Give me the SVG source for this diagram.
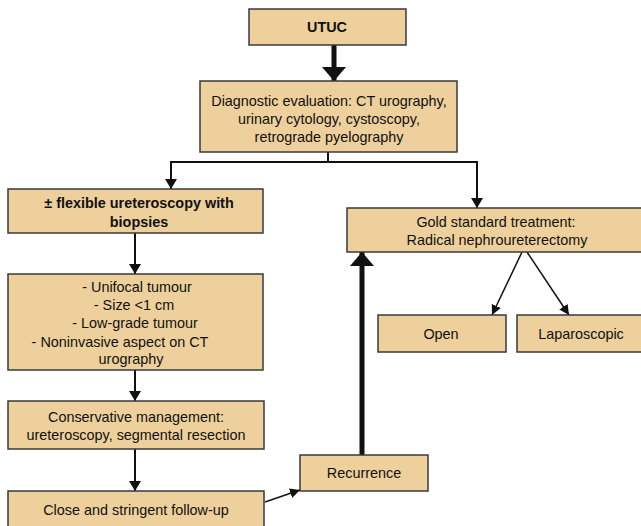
<svg xmlns="http://www.w3.org/2000/svg" width="641" height="526" viewBox="0 0 641 526">
<defs>
<style>
.box{fill:#EDD09B;stroke:#3a3a3a;stroke-width:1.5}
text{font-family:"Liberation Sans",Arial,sans-serif;font-size:14.4px;fill:#111;text-anchor:middle}
.b{font-weight:bold}
.ln{stroke:#111;fill:none;stroke-width:2}
.thick{stroke:#111;fill:none;stroke-width:5}
.thin{stroke:#111;fill:none;stroke-width:1.5}
</style>
<marker id="bigup" markerUnits="userSpaceOnUse" viewBox="0 0 14 24" markerWidth="14" markerHeight="24" refX="14" refY="12" orient="auto">
<path d="M0,0 L14,12 L0,24 Z" fill="#111"/>
</marker>
<marker id="hd" markerUnits="userSpaceOnUse" viewBox="0 0 10 12" markerWidth="10" markerHeight="12" refX="10" refY="6" orient="auto">
<path d="M0,0 L10,6 L0,12 Z" fill="#111"/>
</marker>
<marker id="hs" markerUnits="userSpaceOnUse" viewBox="0 0 10 10" markerWidth="10" markerHeight="10" refX="10" refY="5" orient="auto">
<path d="M0,0 L10,5 L0,10 Z" fill="#111"/>
</marker>
</defs>
<rect width="641" height="526" fill="#fff"/>
<g id="connectors">
<line class="thick" x1="334" y1="45" x2="334" y2="81" marker-end="url(#bigup)"/>
<line class="ln" x1="328" y1="152" x2="328" y2="162"/>
<polyline class="ln" points="170,162 477,162 477,208" marker-end="url(#hd)"/>
<line class="ln" x1="171" y1="162" x2="171" y2="189" marker-end="url(#hd)"/>
<line class="ln" x1="135" y1="233" x2="135" y2="274" marker-end="url(#hd)"/>
<line class="ln" x1="135" y1="370" x2="135" y2="401" marker-end="url(#hd)"/>
<line class="ln" x1="135" y1="449" x2="135" y2="491" marker-end="url(#hd)"/>
<line class="thin" x1="265" y1="502" x2="300" y2="490" marker-end="url(#hs)"/>
<line class="thick" x1="362" y1="455" x2="362" y2="252" marker-end="url(#bigup)"/>
<line class="thin" x1="522" y1="252" x2="492" y2="315" marker-end="url(#hs)"/>
<line class="thin" x1="527" y1="252" x2="569" y2="315" marker-end="url(#hs)"/>
</g>
<g id="utuc"><rect class="box" x="249" y="9" width="157" height="36"/><text class="b" x="327" y="32">UTUC</text></g>
<g id="diagnostic"><rect class="box" x="200" y="81" width="257" height="71"/>
<text x="329" y="106">Diagnostic evaluation: CT urography,</text>
<text x="329" y="124">urinary cytology, cystoscopy,</text>
<text x="329" y="142">retrograde pyelography</text></g>
<g id="flexible"><rect class="box" x="8" y="189" width="255" height="44"/>
<text class="b" x="139" y="208">± flexible ureteroscopy with</text>
<text class="b" x="139" y="227">biopsies</text></g>
<g id="criteria"><rect class="box" x="8" y="274" width="255" height="96"/>
<text x="137" y="292">- Unifocal tumour</text>
<text x="134" y="310">- Size &lt;1 cm</text>
<text x="135" y="328">- Low-grade tumour</text>
<text x="120" y="347">- Noninvasive aspect on CT</text>
<text x="131" y="364">urography</text></g>
<g id="conservative"><rect class="box" x="8" y="401" width="256" height="48"/>
<text x="136" y="422">Conservative management:</text>
<text x="136" y="440">ureteroscopy, segmental resection</text></g>
<g id="followup"><rect class="box" x="8" y="491" width="256" height="40"/>
<text x="136" y="515">Close and stringent follow-up</text></g>
<g id="recurrence"><rect class="box" x="300" y="455" width="128" height="36"/>
<text x="364" y="478">Recurrence</text></g>
<g id="gold"><rect class="box" x="347" y="208" width="300" height="44"/>
<text x="496" y="227">Gold standard treatment:</text>
<text x="497" y="245">Radical nephroureterectomy</text></g>
<g id="open"><rect class="box" x="378" y="315" width="128" height="37"/>
<text x="441" y="339">Open</text></g>
<g id="laparoscopic"><rect class="box" x="517" y="315" width="130" height="37"/>
<text x="581" y="339">Laparoscopic</text></g>
</svg>
